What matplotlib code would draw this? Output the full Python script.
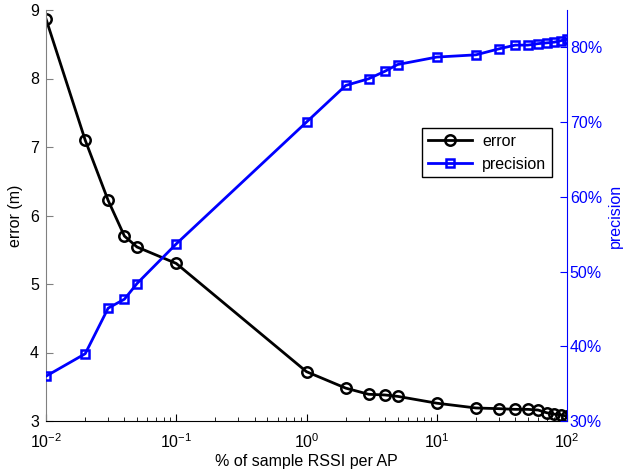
import numpy as np
import matplotlib
matplotlib.use('Agg')
import matplotlib.pyplot as plt
from matplotlib.ticker import FuncFormatter, LogLocator

plt.rcParams['font.family'] = ['Liberation Sans', 'DejaVu Sans']
plt.rcParams['mathtext.fontset'] = 'custom'
plt.rcParams['mathtext.rm'] = 'Liberation Sans'
plt.rcParams['font.size'] = 11.5

# % of sample RSSI per AP
sample_pct = [0.01, 0.02, 0.03, 0.04, 0.05, 0.1, 1, 2, 3, 4, 5, 10,
              20, 30, 40, 50, 60, 70, 80, 90, 100]
error_m = [8.87, 7.10, 6.22, 5.70, 5.54, 5.30, 3.72, 3.48, 3.39, 3.38, 3.36,
           3.26, 3.19, 3.18, 3.17, 3.17, 3.16, 3.12, 3.10, 3.09, 3.07]
precision_pct = [36.0, 39.0, 45.1, 46.3, 48.4, 53.7, 70.0, 74.9, 75.8, 76.8,
                 77.7, 78.7, 79.0, 79.8, 80.3, 80.3, 80.5, 80.6, 80.7, 80.9, 81.1]

blue = '#0000ff'
fig = plt.figure(figsize=(6.23, 4.71), dpi=100)
ax = fig.add_axes([46/623, 50/471, 521/623, 411/471])
ax2 = ax.twinx()

l1, = ax.plot(sample_pct, error_m, '-o', color='k', lw=2, ms=7.5,
              mfc='none', mew=1.8, label='error')
l2, = ax2.plot(sample_pct, precision_pct, '-s', color=blue, lw=2, ms=6,
               mfc='none', mew=1.8, label='precision')

ax.set_xscale('log')
ax.set_xlim(0.01, 100)
ax.set_ylim(3, 9)
ax2.set_ylim(30, 85)
ax.set_yticks([3, 4, 5, 6, 7, 8, 9])
ax2.set_yticks([30, 40, 50, 60, 70, 80])
ax2.yaxis.set_major_formatter(FuncFormatter(lambda v, p: f'{v:.0f}%'))

for a in (ax, ax2):
    a.spines['top'].set_visible(False)
ax.spines['right'].set_visible(False)
ax2.spines['left'].set_visible(False)
ax2.spines['bottom'].set_visible(False)
ax.spines['left'].set_color('#808080')
ax.spines['bottom'].set_color('k')
ax2.spines['right'].set_color(blue)

ax.tick_params(axis='y', direction='in', color='#808080', labelcolor='k',
               length=5, pad=5)
ax.tick_params(axis='x', which='both', direction='in', color='k', pad=8)
ax.tick_params(axis='x', which='major', length=5)
ax.tick_params(axis='x', which='minor', length=3)
ax2.tick_params(axis='y', direction='in', color=blue, labelcolor=blue,
                length=5, pad=2)
ax.xaxis.set_minor_locator(LogLocator(base=10, subs=np.arange(2, 10)))

ax.set_xlabel('% of sample RSSI per AP', labelpad=2)
ax.set_ylabel('error (m)', labelpad=5)
ax2.set_ylabel('precision', color=blue, labelpad=4)

ax2.legend(handles=[l1, l2], loc='upper left', bbox_to_anchor=(0.722, 0.713),
           fancybox=False, edgecolor='k', framealpha=1, borderpad=0.35,
           handlelength=2.8, handletextpad=0.6, borderaxespad=0)

fig.savefig('out.png', dpi=100)
